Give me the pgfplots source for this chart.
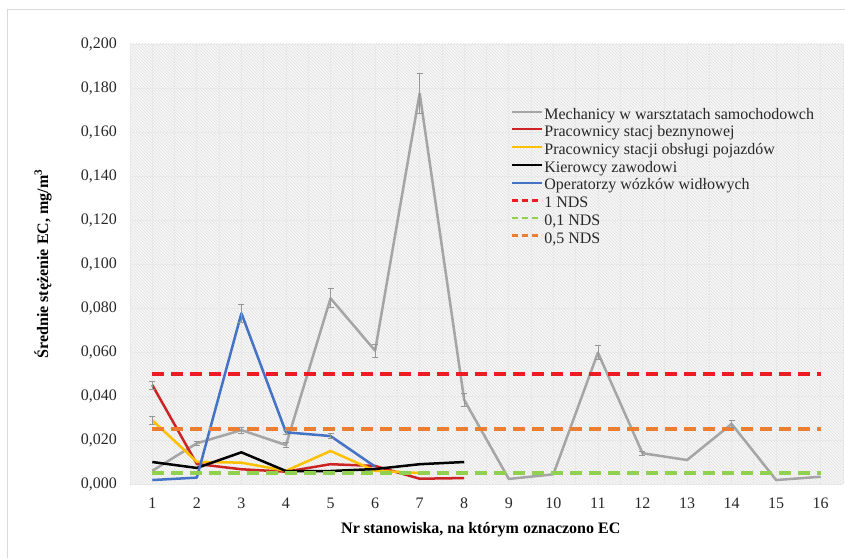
\documentclass[border=0pt]{standalone}
\usepackage{fontspec}
\setmainfont{Liberation Serif}
\usepackage{pgfplots}
\pgfplotsset{compat=1.18}
\usetikzlibrary{patterns}
\definecolor{cgray}{RGB}{165,165,165}
\definecolor{cerr}{RGB}{150,150,150}
\definecolor{cred}{RGB}{204,36,36}
\definecolor{cyellow}{RGB}{255,192,0}
\definecolor{cblue}{RGB}{68,114,196}
\definecolor{rred}{RGB}{237,28,36}
\definecolor{rgreen}{RGB}{146,208,80}
\definecolor{rorange}{RGB}{237,125,49}
\definecolor{ctext}{RGB}{40,40,40}
\begin{document}
\begin{tikzpicture}
\draw[black!15, line width=0.8pt] (7pt,0pt) -- (7pt,549pt) -- (845pt,549pt);
\begin{axis}[
  at={(130pt,74pt)}, anchor=south west,
  scale only axis, width=713pt, height=440pt,
  xmin=0.5, xmax=16.5, ymin=0, ymax=0.2,
  xtick={1,2,...,16},
  minor xtick={0.5,1.5,...,16.5},
  ytick={0,0.02,0.04,0.06,0.08,0.1,0.12,0.14,0.16,0.18,0.2},
  scaled y ticks=false,
  axis line style={draw=none},
  major tick length=0pt, minor tick length=0pt,
  grid=both,
  major grid style={black!9, line width=0.8pt},
  minor grid style={black!9, line width=0.8pt},
  axis background/.style={fill=black!3, postaction={pattern=north west lines, pattern color=black!12}},
  tick label style={font=\fontsize{16}{18}\selectfont, text=ctext},
  yticklabel style={inner sep=0pt, xshift=-13pt, /pgf/number format/fixed, /pgf/number format/fixed zerofill, /pgf/number format/precision=3, /pgf/number format/use comma, /pgf/number format/assume math mode=true},
  xticklabel style={inner sep=0pt, yshift=-13.5pt, /pgf/number format/assume math mode=true},
  xlabel={\textbf{Nr stanowiska, na którym oznaczono EC}},
  ylabel={\textbf{Średnie stężenie EC, mg/m\textsuperscript{3}}},
  label style={font=\fontsize{16}{18}\selectfont, text=black},
  xlabel style={at={(axis description cs:0.492,-0.1045)}, anchor=center},
  ylabel style={at={(axis description cs:-0.122,0.5)}, anchor=center, rotate=0},
  legend cell align=left,
  legend style={at={(0.529,0.862)}, anchor=north west, draw=none, fill=none,
    font=\fontsize{16}{17.7}\selectfont, text=ctext, row sep=0pt,
    nodes={inner ysep=0pt, inner xsep=1.5pt, text height=12.2pt, text depth=5.5pt}},
  legend image code/.code={\path (0pt,0pt); \draw[#1] (0pt,4pt) -- (30pt,4pt);},
  line join=round,
]
% Mechanicy
\addplot[cgray, line width=2.5pt, legend image post style={line width=2pt}] table[x=x,y=y] {
x y
1 0.0060
2 0.0185
3 0.0245
4 0.0177
5 0.0844
6 0.0606
7 0.1776
8 0.0382
9 0.0023
10 0.0044
11 0.0597
12 0.0140
13 0.0109
14 0.0273
15 0.0018
16 0.0033
};
\addlegendentry{Mechanicy w warsztatach samochodowch}
% Pracownicy stacj beznynowej
\addplot[cred, line width=2.5pt, legend image post style={line width=2pt}] table[x=x,y=y] {
x y
1 0.0450
2 0.0091
3 0.0067
4 0.0056
5 0.0090
6 0.0082
7 0.0024
8 0.0027
};
\addlegendentry{Pracownicy stacj beznynowej}
% Pracownicy stacji obsługi pojazdów
\addplot[cyellow, line width=2.5pt, legend image post style={line width=2pt}] table[x=x,y=y] {
x y
1 0.0290
2 0.0101
3 0.0097
4 0.0060
5 0.0150
6 0.0060
7 0.0050
};
\addlegendentry{Pracownicy stacji obsługi pojazdów}
% Kierowcy zawodowi
\addplot[black, line width=2.5pt, legend image post style={line width=2pt}] table[x=x,y=y] {
x y
1 0.0100
2 0.0073
3 0.0144
4 0.0059
5 0.0059
6 0.0068
7 0.0090
8 0.0100
};
\addlegendentry{Kierowcy zawodowi}
% Operatorzy wózków widłowych
\addplot[cblue, line width=2.5pt, legend image post style={line width=2pt}] table[x=x,y=y] {
x y
1 0.0018
2 0.0029
3 0.0776
4 0.0235
5 0.0218
6 0.0079
};
\addlegendentry{Operatorzy wózków widłowych}
% reference levels
\addplot[rred, line width=3.5pt, dash pattern=on 12pt off 7pt, legend image post style={line width=2.5pt, dash pattern=on 6pt off 4pt}] coordinates {(1,0.05) (16,0.05)};
\addlegendentry{1 NDS}
\addplot[rgreen, line width=3.5pt, dash pattern=on 12pt off 7pt, legend image post style={line width=2.5pt, dash pattern=on 6pt off 4pt}] coordinates {(1,0.005) (16,0.005)};
\addlegendentry{0,1 NDS}
\addplot[rorange, line width=3.5pt, dash pattern=on 12pt off 7pt, legend image post style={line width=2.5pt, dash pattern=on 6pt off 4pt}] coordinates {(1,0.025) (16,0.025)};
\addlegendentry{0,5 NDS}
% error bars
\addplot[draw=none, mark=none, forget plot,
  error bars/.cd, y dir=both, y explicit,
  error bar style={draw=cerr, line width=0.8pt},
  error mark=-,
  error mark options={rotate=90, draw=cerr, line width=0.8pt, mark size=3pt}]
  table[x=x,y=y,y error=e] {
x y e
2 0.0185 0.0010
3 0.0245 0.0013
4 0.0177 0.0010
5 0.0844 0.0043
6 0.0606 0.0030
7 0.1776 0.0090
8 0.0382 0.0030
11 0.0597 0.0032
12 0.0140 0.0010
14 0.0273 0.0015
1 0.0450 0.0018
1 0.0290 0.0018
3 0.0776 0.0040
4 0.0235 0.0010
5 0.0218 0.0012
};
\end{axis}
\pgfresetboundingbox
\path[use as bounding box] (0pt,0pt) rectangle (845pt,558pt);
\end{tikzpicture}
\end{document}
